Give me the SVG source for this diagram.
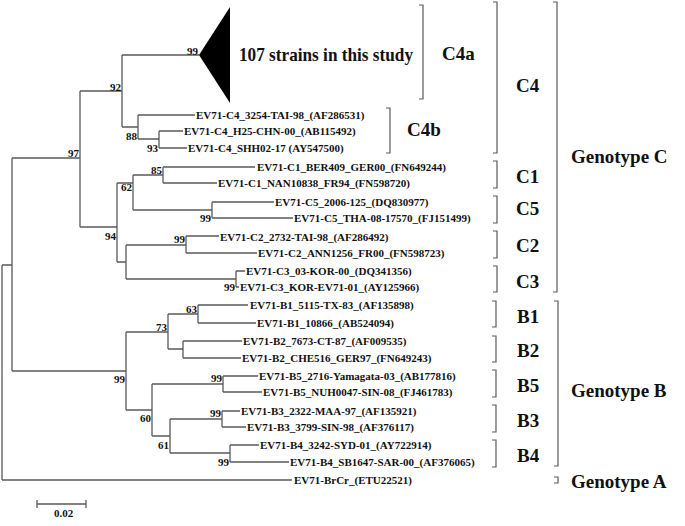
<svg xmlns="http://www.w3.org/2000/svg" width="685" height="526" viewBox="0 0 685 526">
<style>
.br{fill:none;stroke:#5a5a5a;stroke-width:1.3}
.bk{fill:none;stroke:#5a5a5a;stroke-width:1.2}
.lf{font-family:"Liberation Serif","Times New Roman",serif;font-weight:bold;font-size:11px;fill:#111}
.bs{font-family:"Liberation Serif","Times New Roman",serif;font-weight:bold;font-size:11px;fill:#111;text-anchor:end}
.cl{font-family:"Liberation Serif","Times New Roman",serif;font-weight:bold;font-size:19px;fill:#111}
</style>
<rect width="685" height="526" fill="#fff"/>
<g id="connectors" class="br">
<path d="M2,265V480M2,265H12M12,158V371M12,158H80M12,371H126M2,480H292"/>
<path d="M80,91V227M80,91H122M80,227H117"/>
<path d="M122,55V127M122,55H199M122,127H138"/>
<path d="M138,115V139M138,115H195M138,139H159"/>
<path d="M159,131V148M159,131H183M159,148H187"/>
<path d="M117,183V262M117,183H133M117,262H126"/>
<path d="M133,175V210M133,175H163M133,210H212"/>
<path d="M163,167V183M163,167H255M163,183H217"/>
<path d="M212,202V218M212,202H274M212,218H293"/>
<path d="M126,245V279M126,245H186M126,279H236"/>
<path d="M186,236V253M186,236H219M186,253H257"/>
<path d="M236,271V287M236,271H245M236,287H239"/>
<path d="M126,332V410M126,332H168M126,410H152"/>
<path d="M168,314V349M168,314H198M168,349H183"/>
<path d="M198,305V323M198,305H248M198,323H256"/>
<path d="M183,341V358M183,341H242M183,358H241"/>
<path d="M152,384V436M152,384H223M152,436H170"/>
<path d="M223,376V392M223,376H258M223,392H262"/>
<path d="M170,419V453M170,419H222M170,453H230"/>
<path d="M222,411V427M222,411H240M222,427H246"/>
<path d="M230,445V462M230,445H259M230,462H289"/>
</g>
<g id="collapsed-c4a">
<polygon points="199,55 230,7 230,103" fill="#000"/>
<text class="cl" x="239" y="61" font-size="17" textLength="174" lengthAdjust="spacingAndGlyphs">107 strains in this study</text>
</g>
<g id="bootstrap">
<text class="bs" x="198" y="54.5">99</text>
<text class="bs" x="121" y="90.5">92</text>
<text class="bs" x="79" y="156.5">97</text>
<text class="bs" x="137" y="139.5">88</text>
<text class="bs" x="158" y="151.5">93</text>
<text class="bs" x="162" y="173.5">85</text>
<text class="bs" x="132" y="190.5">62</text>
<text class="bs" x="211" y="221.5">99</text>
<text class="bs" x="116" y="239.5">94</text>
<text class="bs" x="185" y="242.5">99</text>
<text class="bs" x="235" y="290.5">99</text>
<text class="bs" x="197" y="312.5">63</text>
<text class="bs" x="167" y="330.5">73</text>
<text class="bs" x="125" y="382.5">99</text>
<text class="bs" x="222" y="381.5">99</text>
<text class="bs" x="151" y="421.5">60</text>
<text class="bs" x="221" y="416.5">99</text>
<text class="bs" x="169" y="448.5">61</text>
<text class="bs" x="229" y="465.5">99</text>
</g>
<g id="leaves">
<text class="lf" x="196" y="119">EV71-C4_3254-TAI-98_(AF286531)</text>
<text class="lf" x="184" y="135">EV71-C4_H25-CHN-00_(AB115492)</text>
<text class="lf" x="188" y="152">EV71-C4_SHH02-17 (AY547500)</text>
<text class="lf" x="257" y="171">EV71-C1_BER409_GER00_(FN649244)</text>
<text class="lf" x="218" y="187">EV71-C1_NAN10838_FR94_(FN598720)</text>
<text class="lf" x="275" y="206">EV71-C5_2006-125_(DQ830977)</text>
<text class="lf" x="294" y="222">EV71-C5_THA-08-17570_(FJ151499)</text>
<text class="lf" x="220" y="241">EV71-C2_2732-TAI-98_(AF286492)</text>
<text class="lf" x="258" y="257">EV71-C2_ANN1256_FR00_(FN598723)</text>
<text class="lf" x="246" y="275">EV71-C3_03-KOR-00_(DQ341356)</text>
<text class="lf" x="240" y="291">EV71-C3_KOR-EV71-01_(AY125966)</text>
<text class="lf" x="250" y="309">EV71-B1_5115-TX-83_(AF135898)</text>
<text class="lf" x="257" y="327">EV71-B1_10866_(AB524094)</text>
<text class="lf" x="243" y="345">EV71-B2_7673-CT-87_(AF009535)</text>
<text class="lf" x="242" y="362">EV71-B2_CHE516_GER97_(FN649243)</text>
<text class="lf" x="259" y="380">EV71-B5_2716-Yamagata-03_(AB177816)</text>
<text class="lf" x="263" y="396">EV71-B5_NUH0047-SIN-08_(FJ461783)</text>
<text class="lf" x="241" y="415">EV71-B3_2322-MAA-97_(AF135921)</text>
<text class="lf" x="247" y="431">EV71-B3_3799-SIN-98_(AF376117)</text>
<text class="lf" x="260" y="449">EV71-B4_3242-SYD-01_(AY722914)</text>
<text class="lf" x="290" y="466">EV71-B4_SB1647-SAR-00_(AF376065)</text>
<text class="lf" x="294" y="484">EV71-BrCr_(ETU22521)</text>
</g>
<g id="brackets" class="bk">
<path d="M419,5H423V99H419"/>
<path d="M386,108H390V153H386"/>
<path d="M493,2H497V153H493"/>
<path d="M553,2H557V292H553"/>
<path d="M493,161H497V188H493"/>
<path d="M493,196H497V223H493"/>
<path d="M493,231H497V258H493"/>
<path d="M493,266H497V292H493"/>
<path d="M492,301H496V327H492"/>
<path d="M492,336H496V362H492"/>
<path d="M492,370H496V397H492"/>
<path d="M492,405H496V432H492"/>
<path d="M492,440H496V467H492"/>
<path d="M554,301H558V466H554"/>
<path d="M554,477H558V483H554"/>
</g>
<g id="clade-labels">
<text class="cl" x="442" y="60">C4a</text>
<text class="cl" x="407" y="136">C4b</text>
<text class="cl" x="516" y="92">C4</text>
<text class="cl" x="516" y="183">C1</text>
<text class="cl" x="516" y="215">C5</text>
<text class="cl" x="516" y="252">C2</text>
<text class="cl" x="516" y="288">C3</text>
<text class="cl" x="517" y="323">B1</text>
<text class="cl" x="517" y="357">B2</text>
<text class="cl" x="517" y="392">B5</text>
<text class="cl" x="517" y="427">B3</text>
<text class="cl" x="517" y="462">B4</text>
<text class="cl" x="571" y="163">Genotype C</text>
<text class="cl" x="571" y="397">Genotype B</text>
<text class="cl" x="571" y="488">Genotype A</text>
</g>
<g id="scale-bar">
<path class="br" d="M37,504H86M37,500V508M86,500V508"/>
<text class="lf" x="54" y="517">0.02</text>
</g>
</svg>
